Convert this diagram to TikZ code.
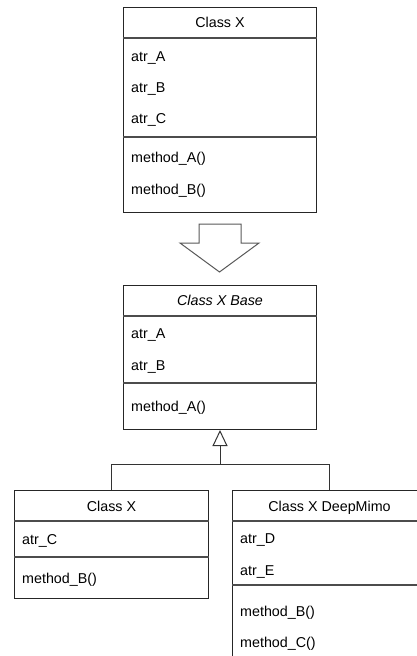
\documentclass[tikz,border=0pt]{standalone}
\usepackage{fontspec}
\setmainfont{Liberation Sans}
\usetikzlibrary{arrows.meta}
\usetikzlibrary{positioning}

\begin{document}
\begin{tikzpicture}[x=1pt, y=-1pt,
  umlbox/.style={draw=black!85, line width=1pt, fill=white, anchor=north west, inner sep=0pt},
  sepline/.style={draw=black!70, line width=1.2pt},
  headtxt/.style={anchor=base, inner sep=0pt, font=\fontsize{14.3}{17}\selectfont},
  membertxt/.style={anchor=base west, inner sep=0pt, font=\fontsize{14.3}{17}\selectfont},
  link/.style={draw=black!80, line width=1pt},
  inherit/.style={link, -{Triangle[open, length=16pt, width=15pt]}},
  bigarrow/.style={draw=black!65, line width=1pt, fill=white, line join=miter}]
  \useasboundingbox (0,0) rectangle (417,656);
  \clip (0,0) rectangle (417,656);

  % 原始类
  \node[umlbox, minimum width=193pt, minimum height=205pt] (cx) at (123,7) {};
  \draw[sepline] ([yshift=-31pt]cx.north west) -- ([yshift=-31pt]cx.north east);
  \draw[sepline] ([yshift=-130pt]cx.north west) -- ([yshift=-130pt]cx.north east);
  \node[headtxt] (cx-t) at ([yshift=-20pt]cx.north) {Class X};
  \foreach \txt/\dy [count=\i] in {atr\_A/54, atr\_B/85, atr\_C/116, method\_A()/155, method\_B()/187}
    \node[membertxt] (cx-\i) at ([xshift=8pt, yshift=-\dy pt]cx.north west) {\txt};

  % 重构箭头
  \draw[bigarrow] (199,224) -- (241,224) -- (241,243) -- (259,243) -- (219.5,272)
    -- (180,243) -- (199,243) -- cycle;

  % 抽象基类
  \node[umlbox, minimum width=193pt, minimum height=144pt] (base) at (123,285) {};
  \draw[sepline] ([yshift=-31pt]base.north west) -- ([yshift=-31pt]base.north east);
  \draw[sepline] ([yshift=-98pt]base.north west) -- ([yshift=-98pt]base.north east);
  \node[headtxt, font=\fontsize{14.3}{17}\selectfont\itshape] (base-t) at ([yshift=-20pt]base.north) {Class X Base};
  \foreach \txt/\dy [count=\i] in {atr\_A/53, atr\_B/85, method\_A()/126}
    \node[membertxt] (base-\i) at ([xshift=8pt, yshift=-\dy pt]base.north west) {\txt};

  % 子类
  \node[umlbox, minimum width=194pt, minimum height=108pt] (cxl) at (14,490) {};
  \draw[sepline] ([yshift=-31pt]cxl.north west) -- ([yshift=-31pt]cxl.north east);
  \draw[sepline] ([yshift=-67pt]cxl.north west) -- ([yshift=-67pt]cxl.north east);
  \node[headtxt] (cxl-t) at ([yshift=-21pt]cxl.north) {Class X};
  \foreach \txt/\dy [count=\i] in {atr\_C/54, method\_B()/93}
    \node[membertxt] (cxl-\i) at ([xshift=8pt, yshift=-\dy pt]cxl.north west) {\txt};

  \node[umlbox, minimum width=194pt, minimum height=171pt] (cxr) at (232,490) {};
  \draw[sepline] ([yshift=-31pt]cxr.north west) -- ([yshift=-31pt]cxr.north east);
  \draw[sepline] ([yshift=-95pt]cxr.north west) -- ([yshift=-95pt]cxr.north east);
  \node[headtxt] (cxr-t) at ([yshift=-21pt]cxr.north) {Class X DeepMimo};
  \foreach \txt/\dy [count=\i] in {atr\_D/53, atr\_E/85, method\_B()/126, method\_C()/157}
    \node[membertxt] (cxr-\i) at ([xshift=8pt, yshift=-\dy pt]cxr.north west) {\txt};

  % 继承关系
  \coordinate (join) at (base.south |- 0,464);
  \draw[link] (cxl.north) |- (join);
  \draw[link] (cxr.north) |- (join);
  \draw[inherit] (join) -- (base.south);
\end{tikzpicture}
\end{document}
